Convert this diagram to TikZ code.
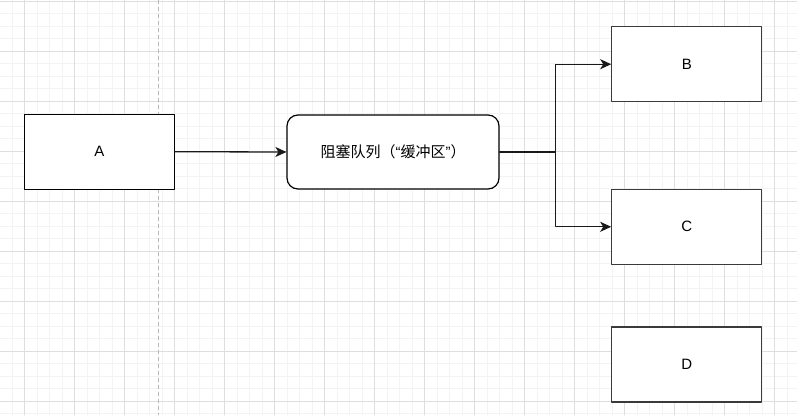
\documentclass[tikz,border=0pt]{standalone}
\usepackage{fontspec}
\setmainfont{Liberation Sans}
\newfontfamily\cjk{Noto Sans CJK SC}
\usetikzlibrary{arrows.meta}
\definecolor{minorgray}{HTML}{F3F3F3}
\definecolor{majorgray}{HTML}{DEDEDE}
\definecolor{boxgray}{HTML}{3A3A3A}
\begin{document}
\begin{tikzpicture}[line cap=round,line join=round,x=1pt,y=-1pt,
		font=\fontsize{15}{18}\selectfont,
		box/.style={draw=boxgray,fill=white,line width=1.2pt,minimum width=150pt,minimum height=75pt,inner sep=0pt},
		queuebox/.style={box,draw=black,rounded corners=11pt,minimum width=212pt,minimum height=74pt},
		flow/.style={draw=black!90,line width=1.3pt,-{Stealth[length=11pt,width=10pt,inset=3pt]}}]
	\useasboundingbox (0,0) rectangle (797,415);
	\fill[white] (0,0) rectangle (797,415);
	% grid
	\foreach \i in {0,...,64}
		\draw[minorgray,line width=0.8pt] ({-0.3+12.5*\i},0) -- ({-0.3+12.5*\i},415);
	\foreach \i in {0,...,33}
		\draw[minorgray,line width=0.8pt] (0,{1+12.5*\i}) -- (797,{1+12.5*\i});
	\foreach \i in {0,...,15}
		\draw[majorgray,line width=0.8pt] ({24.7+50*\i},0) -- ({24.7+50*\i},415);
	\foreach \i in {0,...,8}
		\draw[majorgray,line width=0.8pt] (0,{1+50*\i}) -- (797,{1+50*\i});
	\draw[gray!55,line width=0.9pt,dash pattern=on 4pt off 3pt] (158,0) -- (158,415);
	% nodes
	\node[box,draw=black] (a) at (99.3,151.7) {A};
	\node[queuebox] (q) at (393,152) {{\cjk 阻塞队列（}“{\cjk 缓冲区}”{\cjk ）}};
	\node[box] (b) at (686.8,64.2) {B};
	\node[box] (c) at (686.8,226.8) {C};
	\node[box] (d) at (686.8,364.5) {D};
	% connectors
	\draw[flow] (a.east) -- (q.west);
	\draw[flow] (q.east) -- ++(56,0) |- (b.west);
	\draw[flow] (q.east) -- ++(56,0) |- (c.west);
\end{tikzpicture}
\end{document}
